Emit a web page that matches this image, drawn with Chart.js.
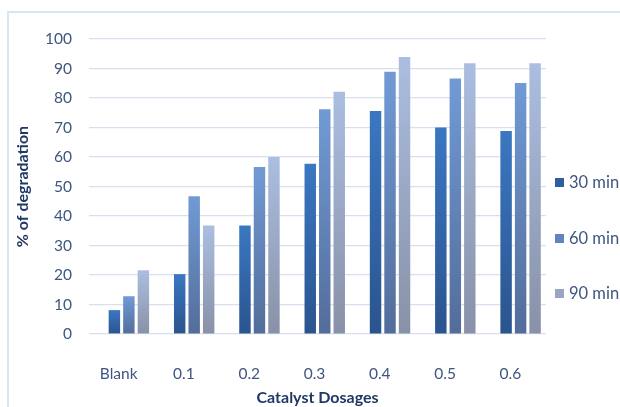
<!DOCTYPE html>
<html>
<head>
<meta charset="utf-8">
<script src="https://cdn.jsdelivr.net/npm/chart.js@4/dist/chart.umd.min.js"></script>
<style>
  html, body { margin: 0; padding: 0; background: #ffffff; }
  #wrap { position: relative; width: 620px; height: 407px; overflow: hidden; }
  #frame {
    position: absolute; left: 7px; top: 11px; width: 700px; height: 500px;
    border-left: 2px solid #D9E4F4; border-top: 2px solid #D9E4F4;
  }
  #chart { position: absolute; left: 0; top: 0; }
  .key { position: absolute; left: 555px; height: 18px; font: 16.5px Lato, sans-serif; color: #3F5680; white-space: nowrap; }
  .key i { position: absolute; left: 0; top: 5px; width: 9px; height: 9px; }
  .key span { position: absolute; left: 14px; top: 0; line-height: 18px; }
</style>
</head>
<body>
<div id="wrap">
  <div id="frame"></div>
  <canvas id="chart" width="620" height="407"></canvas>
</div>
<script>
// Catalyst dosage groups on the x axis
const categories = ['Blank', '0.1', '0.2', '0.3', '0.4', '0.5', '0.6'];

// % of degradation after each irradiation time
const min30 = [8.1, 20.3, 36.8, 57.7, 75.6, 70.0, 68.8];
const min60 = [12.8, 46.7, 56.6, 76.2, 88.9, 86.6, 85.1];
const min90 = [21.6, 36.8, 60.0, 82.1, 93.9, 91.8, 91.8];

const seriesNames = ['30 min', '60 min', '90 min'];
const yTicks = [0, 10, 20, 30, 40, 50, 60, 70, 80, 90, 100];

// top / bottom colours of each series' vertical gradient
const shades = [
  ['#3B77C2', '#2A548E'],
  ['#719AD5', '#536D9A'],
  ['#ABBEE1', '#8891A7']
];
const keyColors = ['#2F5E9F', '#6283BB', '#98A6C4'];

Chart.defaults.font.family = 'Lato, "Open Sans", sans-serif';

function gradientFill(pair) {
  return (ctx) => {
    const chart = ctx.chart;
    const area = chart.chartArea;
    if (!area || ctx.raw == null) return pair[0];
    const top = chart.scales.y.getPixelForValue(ctx.raw);
    const g = chart.ctx.createLinearGradient(0, top, 0, area.bottom);
    g.addColorStop(0, pair[0]);
    g.addColorStop(1, pair[1]);
    return g;
  };
}

const seriesData = [min30, min60, min90];
const datasets = [
  // empty leading slot: pushes each group of three to the right of its tick
  { label: '', data: [], backgroundColor: 'rgba(0,0,0,0)' }
].concat(seriesData.map((values, i) => ({
  label: seriesNames[i],
  data: values,
  backgroundColor: gradientFill(shades[i]),
  borderWidth: 0
})));

new Chart(document.getElementById('chart'), {
  type: 'bar',
  data: { labels: categories, datasets },
  options: {
    responsive: false,
    animation: false,
    events: [],
    categoryPercentage: 0.888,
    barPercentage: 0.79,
    layout: { padding: { top: 39, left: 0, right: 74, bottom: 0 } },
    plugins: { legend: { display: false }, tooltip: { enabled: false } },
    scales: {
      x: {
        grid: { display: false },
        border: { display: false },
        ticks: { color: '#3F5680', font: { size: 15.5 }, padding: 23, labelOffset: -3, maxRotation: 0 },
        title: {
          display: true, text: 'Catalyst Dosages', color: '#203864',
          font: { size: 16, weight: 'bold' }, padding: { top: 0, bottom: 0 }
        },
        afterFit: (scale) => { scale.height = 73; }
      },
      y: {
        min: 0, max: 100,
        afterBuildTicks: (scale) => { scale.ticks = yTicks.map(v => ({ value: v })); },
        grid: { color: '#D8E0EE', lineWidth: 1.2, drawTicks: false },
        border: { display: false },
        ticks: { color: '#3F5680', font: { size: 15.5 }, padding: 17 },
        title: {
          display: true, text: '% of degradation', color: '#203864',
          font: { size: 16, weight: 'bold' }, padding: { top: 13, bottom: 0 }
        },
        afterFit: (scale) => { scale.width = 89; }
      }
    }
  }
});

// series key on the right
const keyTops = [172.5, 229, 284];
seriesNames.forEach((name, i) => {
  const row = document.createElement('div');
  row.className = 'key';
  row.style.top = keyTops[i] + 'px';
  const box = document.createElement('i');
  box.style.background = keyColors[i];
  const txt = document.createElement('span');
  txt.textContent = name;
  row.appendChild(box);
  row.appendChild(txt);
  document.getElementById('wrap').appendChild(row);
});
</script>
</body>
</html>
